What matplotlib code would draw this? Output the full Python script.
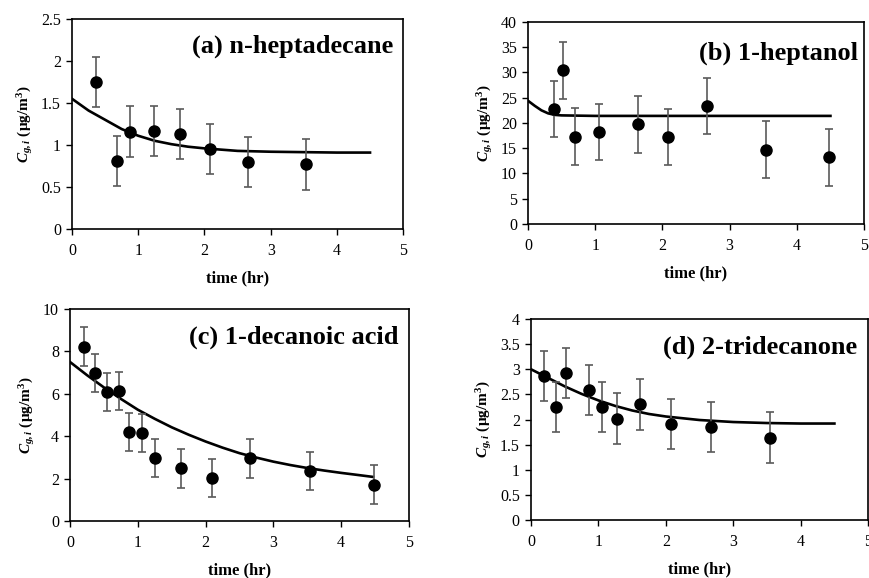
import matplotlib
matplotlib.use("Agg")
import matplotlib.pyplot as plt

plt.rcParams['font.family'] = ['Liberation Serif', 'DejaVu Serif']
plt.rcParams['mathtext.fontset'] = 'custom'
plt.rcParams['mathtext.rm'] = 'Liberation Serif'
plt.rcParams['mathtext.it'] = 'Liberation Serif:italic'
plt.rcParams['mathtext.bf'] = 'Liberation Serif:bold'
plt.rcParams['mathtext.bfit'] = 'Liberation Serif:italic:bold'

# ---- data ----
titles = ["(a) n-heptadecane", "(b) 1-heptanol", "(c) 1-decanoic acid", "(d) 2-tridecanone"]

a_t = [0.36, 0.68, 0.87, 1.24, 1.63, 2.08, 2.66, 3.53]
a_c = [1.75, 0.81, 1.16, 1.17, 1.13, 0.95, 0.80, 0.77]
a_err = [0.30, 0.30, 0.30, 0.30, 0.30, 0.30, 0.30, 0.30]
a_fit_t = [0, 0.25, 0.5, 0.75, 1.0, 1.25, 1.5, 1.75, 2.0, 2.5, 3.0, 3.5, 4.0, 4.5]
a_fit_c = [1.55, 1.41, 1.30, 1.19, 1.11, 1.05, 1.01, 0.98, 0.96, 0.93, 0.92, 0.915, 0.91, 0.91]

b_t = [0.38, 0.52, 0.70, 1.06, 1.64, 2.09, 2.67, 3.54, 4.48]
b_c = [22.8, 30.4, 17.3, 18.2, 19.7, 17.2, 23.4, 14.7, 13.2]
b_err = [5.6, 5.6, 5.6, 5.6, 5.6, 5.6, 5.6, 5.6, 5.6]
b_fit_t = [0, 0.1, 0.2, 0.3, 0.4, 0.5, 0.75, 1.0, 2.0, 3.0, 4.0, 4.5]
b_fit_c = [24.4, 23.4, 22.5, 21.9, 21.6, 21.5, 21.45, 21.4, 21.4, 21.4, 21.4, 21.4]

c_t = [0.20, 0.37, 0.55, 0.72, 0.87, 1.06, 1.26, 1.64, 2.10, 2.66, 3.54, 4.48]
c_c = [8.23, 6.97, 6.10, 6.14, 4.18, 4.16, 2.97, 2.48, 2.03, 2.95, 2.37, 1.72]
c_err = [0.9, 0.9, 0.9, 0.9, 0.9, 0.9, 0.9, 0.9, 0.9, 0.9, 0.9, 0.9]
c_fit_t = [0, 0.25, 0.5, 0.75, 1.0, 1.25, 1.5, 1.75, 2.0, 2.25, 2.5, 2.75, 3.0, 3.25, 3.5, 3.75, 4.0, 4.25, 4.47]
c_fit_c = [7.5, 6.88, 6.3, 5.76, 5.25, 4.82, 4.42, 4.07, 3.75, 3.46, 3.2, 2.99, 2.8, 2.64, 2.5, 2.38, 2.27, 2.17, 2.08]

d_t = [0.20, 0.37, 0.52, 0.86, 1.05, 1.27, 1.62, 2.08, 2.67, 3.54]
d_c = [2.87, 2.25, 2.93, 2.59, 2.25, 2.02, 2.30, 1.91, 1.85, 1.64]
d_err = [0.5, 0.5, 0.5, 0.5, 0.5, 0.5, 0.5, 0.5, 0.5, 0.5]
d_fit_t = [0, 0.25, 0.5, 0.75, 1.0, 1.25, 1.5, 1.75, 2.0, 2.5, 3.0, 3.5, 4.0, 4.5]
d_fit_c = [3.0, 2.83, 2.66, 2.51, 2.38, 2.27, 2.18, 2.11, 2.06, 1.99, 1.95, 1.93, 1.92, 1.92]

ylims = [(0, 2.5), (0, 40), (0, 10), (0, 4)]
yticks = [[0, 0.5, 1, 1.5, 2, 2.5], [0, 5, 10, 15, 20, 25, 30, 35, 40],
          [0, 2, 4, 6, 8, 10], [0, 0.5, 1, 1.5, 2, 2.5, 3, 3.5, 4]]
ytick_labels = [["0", "0.5", "1", "1.5", "2", "2.5"],
                ["0", "5", "10", "15", "20", "25", "30", "35", "40"],
                ["0", "2", "4", "6", "8", "10"],
                ["0", "0.5", "1", "1.5", "2", "2.5", "3", "3.5", "4"]]
xticks = [0, 1, 2, 3, 4, 5]

panels = [
    (a_t, a_c, a_err, a_fit_t, a_fit_c),
    (b_t, b_c, b_err, b_fit_t, b_fit_c),
    (c_t, c_c, c_err, c_fit_t, c_fit_c),
    (d_t, d_c, d_err, d_fit_t, d_fit_c),
]

positions = [
    [0.0829, 0.6038, 0.381, 0.3633],
    [0.6076, 0.6125, 0.3867, 0.3495],
    [0.0806, 0.0986, 0.390, 0.3668],
    [0.611, 0.1003, 0.388, 0.3478],
]
title_pos = [(0.97, 0.87), (0.982, 0.846), (0.97, 0.868), (0.967, 0.86)]

fig = plt.figure(figsize=(8.69, 5.78), dpi=100)

for i, (t, c, e, ft, fc) in enumerate(panels):
    ax = fig.add_axes(positions[i])
    ax.plot(ft, fc, color='black', lw=1.9, zorder=2)
    ax.errorbar(t, c, yerr=e, fmt='o', color='black', ms=8,
                ecolor='#5a5a5a', elinewidth=1.2, capsize=3.2, capthick=1.2, zorder=3)
    ax.set_xlim(0, 5)
    ax.set_ylim(*ylims[i])
    ax.set_xticks(xticks)
    ax.set_xticklabels([str(x) for x in xticks])
    ax.set_yticks(yticks[i])
    ax.set_yticklabels(ytick_labels[i])
    ax.tick_params(axis='both', direction='out', length=4, width=1, labelsize=11.5)
    ax.tick_params(axis='x', pad=6)
    ax.tick_params(axis='y', pad=4)
    for s in ax.spines.values():
        s.set_linewidth(1.2)
    ax.set_xlabel('time (hr)', fontsize=12, fontweight='bold', labelpad=8)
    ax.set_ylabel(r'$\mathbfit{C}_{\mathbfit{g,i}}$ (μg/m$^{\mathbf{3}}$)',
                  fontsize=11, fontweight='bold', labelpad=4)
    ax.text(title_pos[i][0], title_pos[i][1], titles[i], transform=ax.transAxes,
            ha='right', va='center', fontsize=19, fontweight='bold')

fig.savefig('out.png', dpi=100)
